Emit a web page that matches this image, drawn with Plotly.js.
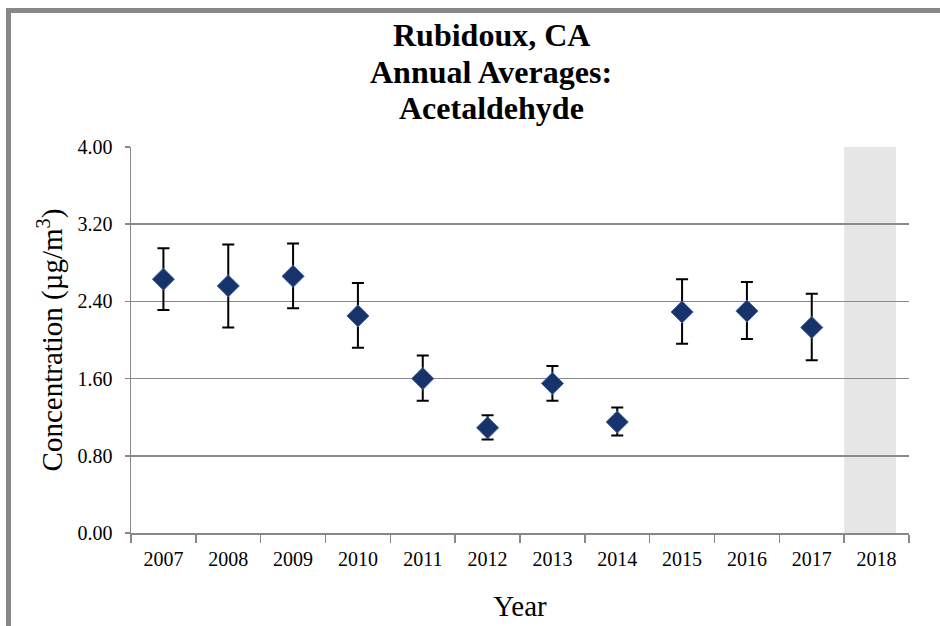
<!DOCTYPE html>
<html>
<head>
<meta charset="utf-8">
<script src="https://cdn.plot.ly/plotly-3.0.1.min.js"></script>
<style>
  html, body { margin: 0; padding: 0; background: #fff; }
  #wrap { position: relative; width: 940px; height: 626px; overflow: hidden; }
  #chart { width: 940px; height: 626px; }
  #frame { position: absolute; left: 6px; top: 8px; width: 1000px; height: 700px;
           border-left: 5px solid #878787; border-top: 5px solid #878787; pointer-events: none; }
</style>
</head>
<body>
<div id="wrap">
  <div id="chart"></div>
  <div id="frame"></div>
</div>
<script>
const years = ["2007","2008","2009","2010","2011","2012","2013","2014","2015","2016","2017","2018"];
const means = [2.63, 2.56, 2.66, 2.25, 1.60, 1.09, 1.55, 1.15, 2.29, 2.30, 2.13, null];
const upper = [2.95, 2.99, 3.00, 2.59, 1.84, 1.22, 1.73, 1.30, 2.63, 2.60, 2.48, null];
const lower = [2.31, 2.13, 2.33, 1.92, 1.37, 0.97, 1.37, 1.01, 1.96, 2.01, 1.79, null];
const yTicks = [0, 0.8, 1.6, 2.4, 3.2, 4.0];
const titleLines = ["Rubidoux, CA", "Annual Averages:", "Acetaldehyde"];

const errPlus = means.map((m, i) => m == null ? null : +(upper[i] - m).toFixed(3));
const errMinus = means.map((m, i) => m == null ? null : +(m - lower[i]).toFixed(3));

const serif = "Liberation Serif, Times New Roman, serif";

const trace = {
  type: "scatter",
  mode: "markers",
  x: years,
  y: means,
  marker: { symbol: "diamond", size: 17, color: "#17336b", line: { color: "#4565a3", width: 1 } },
  error_y: { type: "data", symmetric: false, array: errPlus, arrayminus: errMinus,
             color: "#000", thickness: 2, width: 6 },
  hoverinfo: "x+y",
  showlegend: false
};

const titleY = [1.290, 1.194, 1.101];
const annotations = titleLines.map((t, i) => ({
  text: "<b>" + t + "</b>",
  xref: "paper", yref: "paper",
  x: 0.463, y: titleY[i],
  xanchor: "center", yanchor: "middle",
  showarrow: false,
  font: { family: serif, size: 32, color: "#000" }
}));

const layout = {
  width: 940, height: 626,
  margin: { l: 131, r: 31, t: 147, b: 93 },
  paper_bgcolor: "#fff",
  plot_bgcolor: "#fff",
  font: { family: serif, color: "#000" },
  annotations: annotations,
  xaxis: {
    type: "category",
    categoryorder: "array",
    categoryarray: years,
    range: [-0.5, 11.5],
    tickson: "boundaries",
    ticks: "outside", ticklen: 8, tickcolor: "#888", tickwidth: 1.5,
    ticklabelstandoff: 7,
    showline: true, linecolor: "#888", linewidth: 1.5,
    showgrid: false,
    tickfont: { family: serif, size: 20, color: "#000" },
    title: { text: "Year", font: { family: serif, size: 29, color: "#000" }, standoff: 27 },
    fixedrange: true
  },
  yaxis: {
    range: [0, 4],
    tickvals: yTicks,
    tickformat: ".2f",
    ticks: "outside", ticklen: 5, tickcolor: "#888", tickwidth: 1.5,
    ticklabelstandoff: 8,
    showline: true, linecolor: "#888", linewidth: 1.5,
    showgrid: true, gridcolor: "#8a8a8a", gridwidth: 1.5,
    zeroline: false,
    tickfont: { family: serif, size: 20, color: "#000" },
    title: { text: "Concentration (µg/m<sup>3</sup>)", font: { family: serif, size: 29, color: "#000" }, standoff: 6 },
    fixedrange: true
  },
  shapes: [{
    type: "rect", xref: "x", yref: "paper",
    x0: 10.5, x1: 11.3, y0: 0, y1: 1,
    fillcolor: "#e6e6e6", line: { width: 0 }, layer: "below"
  }]
};

Plotly.newPlot("chart", [trace], layout, { displayModeBar: false, staticPlot: true });
</script>
</body>
</html>
